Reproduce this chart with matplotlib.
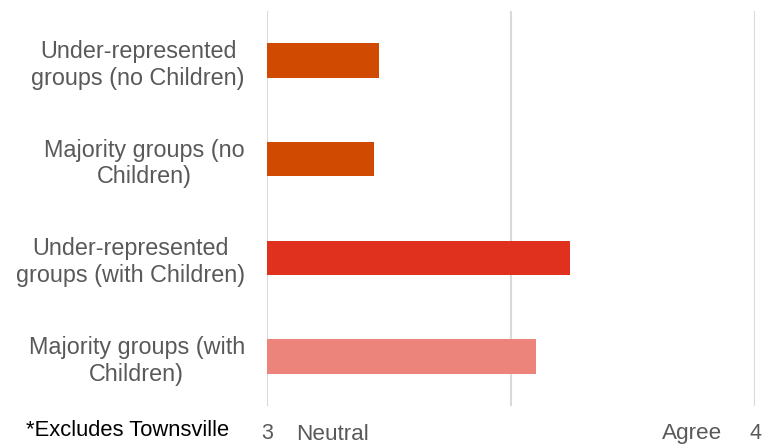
import matplotlib.pyplot as plt

plt.rcParams['font.family'] = ['Liberation Sans', 'DejaVu Sans']

# data, top to bottom
groups = ["Under-represented\ngroups (no Children)",
          "Majority groups (no\nChildren)",
          "Under-represented\ngroups (with Children)",
          "Majority groups (with\nChildren)"]
scores = [3.23, 3.22, 3.62, 3.552]
colors = ["#D04A02", "#D04A02", "#E0301E", "#ED847C"]
ticks = [3, 3.5, 4]
tick_labels = ["3", "", "4"]

grey = "#595959"

fig = plt.figure(figsize=(7.74, 4.46), dpi=100)
ax = fig.add_axes([0.345, 0.09, 0.6305, 0.885])

ypos = list(range(len(groups)))
ax.barh(ypos, [s - 3 for s in scores], left=3, height=0.35, color=colors, zorder=3)

ax.set_xlim(3, 4)
ax.set_ylim(len(groups) - 0.5, -0.5)
ax.set_xticks(ticks)
ax.set_xticklabels(tick_labels, fontsize=15.5, color=grey)
ax.set_yticks(ypos)
ax.set_yticklabels(groups, fontsize=16.8, color=grey, multialignment='center')
ax.tick_params(axis='both', length=0)
ax.tick_params(axis='y', pad=16)
ax.tick_params(axis='x', pad=12)
ax.grid(axis='x', color='#D9D9D9', linewidth=1.5, zorder=0)
for s in ax.spines.values():
    s.set_visible(False)

# extra axis annotations
fig.text(333 / 774, 1 - 435 / 446, "Neutral", fontsize=16.2, color=grey, ha='center', va='center')
fig.text(692 / 774, 1 - 433 / 446, "Agree", fontsize=16.2, color=grey, ha='center', va='center')
fig.text(128 / 774, 1 - 430 / 446, "*Excludes Townsville", fontsize=15.8, color='black', ha='center', va='center')

fig.savefig("out.png", dpi=100)
